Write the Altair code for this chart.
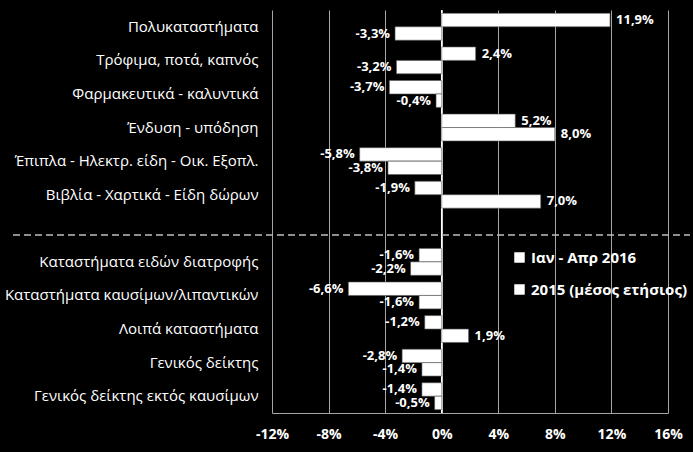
import altair as alt
import pandas as pd

categories = [
    "Πολυκαταστήματα",
    "Τρόφιμα, ποτά, καπνός",
    "Φαρμακευτικά - καλυντικά",
    "Ένδυση - υπόδηση",
    "Έπιπλα - Ηλεκτρ. είδη - Οικ. Εξοπλ.",
    "Βιβλία - Χαρτικά - Είδη δώρων",
    "Καταστήματα ειδών διατροφής",
    "Καταστήματα καυσίμων/λιπαντικών",
    "Λοιπά καταστήματα",
    "Γενικός δείκτης",
    "Γενικός δείκτης εκτός καυσίμων",
]
series = ["Ιαν - Απρ 2016", "2015 (μέσος ετήσιος)"]
v2016 = [11.9, 2.4, -3.7, 5.2, -5.8, -1.9, -1.6, -6.6, -1.2, -2.8, -1.4]
v2015 = [-3.3, -3.2, -0.4, 8.0, -3.8, 7.0, -2.2, -1.6, 1.9, -1.4, -0.5]
x_ticks = [-12, -8, -4, 0, 4, 8, 12, 16]

spacer = " "
domain = categories[:6] + [spacer] + categories[6:]

rows = []
for c, a, b in zip(categories, v2016, v2015):
    rows.append({"cat": c, "series": series[0], "value": a})
    rows.append({"cat": c, "series": series[1], "value": b})
df = pd.DataFrame(rows)
df["label"] = df["value"].map(lambda v: f"{v:.1f}".replace(".", ",") + "%")

FONT = "Open Sans"

y_enc = alt.Y(
    "cat:N",
    scale=alt.Scale(domain=domain, paddingInner=0.2, paddingOuter=0.1),
    axis=alt.Axis(title=None, ticks=False, domain=False, grid=False,
                  labelColor="white", labelFont=FONT, labelFontSize=15,
                  labelPadding=14, labelLimit=300),
)
yoff = alt.YOffset("series:N", scale=alt.Scale(domain=series))
x_enc = alt.X(
    "value:Q",
    scale=alt.Scale(domain=[-12, 16], nice=False),
    axis=alt.Axis(values=x_ticks, labelExpr="datum.value + '%'", title=None,
                  grid=True, gridColor="#a6a6a6", gridWidth=1,
                  domainColor="#a6a6a6", ticks=False, labelColor="white",
                  labelFontWeight="bold", labelFontSize=14, labelFont=FONT,
                  labelPadding=14, labelFlush=False, labelOverlap=False),
)

base = alt.Chart(df)

bars = base.mark_bar(stroke="#595959", strokeWidth=0.6).encode(
    y=y_enc,
    yOffset=yoff,
    x=x_enc,
    color=alt.Color(
        "series:N",
        scale=alt.Scale(domain=series, range=["white", "white"]),
        legend=alt.Legend(orient="none", legendX=240, legendY=240, title=None,
                          symbolType="square", symbolSize=110,
                          symbolStrokeWidth=0, labelColor="white",
                          labelFont=FONT, labelFontWeight="bold",
                          labelFontSize=15, rowPadding=16, labelOffset=4),
    ),
)

pos_labels = base.transform_filter("datum.value >= 0").mark_text(
    align="left", baseline="middle", dx=6, color="white",
    font=FONT, fontWeight="bold", fontSize=13,
).encode(y=alt.Y("cat:N"), yOffset=yoff, x=alt.X("value:Q"), text="label:N")

neg_labels = base.transform_filter("datum.value < 0").mark_text(
    align="right", baseline="middle", dx=-5, color="white",
    font=FONT, fontWeight="bold", fontSize=13,
).encode(y=alt.Y("cat:N"), yOffset=yoff, x=alt.X("value:Q"), text="label:N")

zero = alt.Chart(pd.DataFrame({"x": [0]})).mark_rule(
    color="white", strokeWidth=1.5
).encode(x=alt.X("x:Q"))

sep = alt.Chart(pd.DataFrame({"cat": [spacer]})).mark_rule(
    color="#bfbfbf", strokeWidth=1.3, strokeDash=[7, 4]
).encode(
    y=alt.Y("cat:N", bandPosition=0.75),
    x=alt.value(-259),
    x2=alt.value(418),
)

chart = alt.layer(zero, bars, pos_labels, neg_labels, sep).properties(
    width=396, height=403,
    background="black",
    padding={"left": 272, "top": 10, "right": 25, "bottom": 39},
    autosize=alt.AutoSizeParams(type="none"),
).configure_view(stroke=None)

chart.save("out.html", embed_options={"renderer": "svg", "actions": False})
